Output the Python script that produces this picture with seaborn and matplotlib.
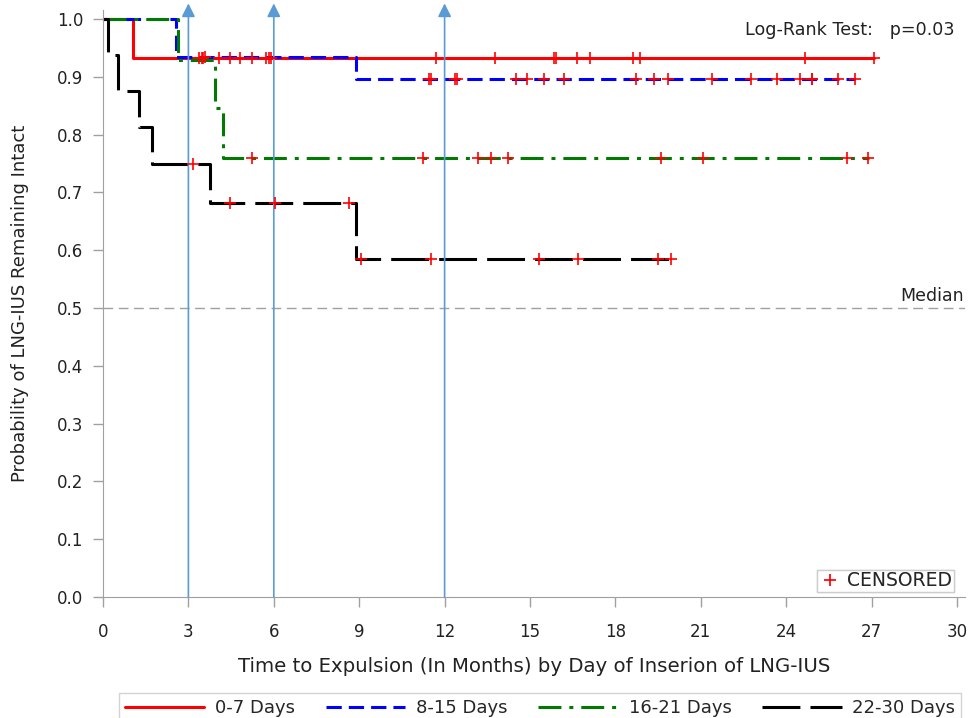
import numpy as np
import pandas as pd
import seaborn as sns
import matplotlib.pyplot as plt
from matplotlib.lines import Line2D
from matplotlib.ticker import FormatStrFormatter

# Kaplan-Meier steps (time in months, survival)
groups = ['0-7 Days', '8-15 Days', '16-21 Days', '22-30 Days']
red_t = [0, 1.05, 27.1]
red_s = [1.0, 0.933, 0.933]
blue_t = [0, 2.55, 8.9, 26.41]
blue_s = [1.0, 0.935, 0.896, 0.896]
green_t = [0, 2.65, 3.95, 4.2, 26.9]
green_s = [1.0, 0.929, 0.846, 0.76, 0.76]
black_t = [0, 0.19, 0.54, 1.28, 1.73, 3.76, 8.87, 19.95]
black_s = [1.0, 0.9375, 0.875, 0.8125, 0.75, 0.682, 0.584, 0.584]

# censored times
red_c = [3.38, 3.47, 3.52, 4.09, 4.45, 4.80, 5.24, 5.74, 5.82, 5.90, 11.70, 13.77,
         15.85, 15.93, 16.64, 17.11, 18.63, 18.86, 24.66, 27.09]
blue_c = [3.58, 11.46, 11.51, 12.36, 12.44, 14.51, 14.91, 15.50, 16.2, 18.71, 19.35,
          19.86, 21.41, 22.78, 23.68, 24.48, 24.89, 24.92, 25.83, 26.41]
green_c = [5.22, 11.25, 13.16, 13.63, 14.24, 19.59, 21.09, 26.15, 26.88]
black_c = [3.17, 4.46, 6.04, 8.64, 9.05, 11.52, 15.33, 16.7, 19.48, 19.95]

ref_months = [3, 6, 12]

steps = [(red_t, red_s, red_c), (blue_t, blue_s, blue_c),
         (green_t, green_s, green_c), (black_t, black_s, black_c)]

rows, cens = [], []
for g, (t, s, c) in zip(groups, steps):
    for ti, si in zip(t, s):
        rows.append(dict(time=ti, surv=si, group=g))
    for ci in c:
        idx = np.searchsorted(t, ci, side='right') - 1
        cens.append(dict(time=ci, surv=s[idx], group=g))
df = pd.DataFrame(rows)
cdf = pd.DataFrame(cens)

colors = {'0-7 Days': '#FF0000', '8-15 Days': '#0000FF',
          '16-21 Days': '#007A00', '22-30 Days': '#000000'}
dashes = {'0-7 Days': '', '8-15 Days': (5, 2.3),
          '16-21 Days': (7.5, 2.6, 1.3, 2.6), '22-30 Days': (12.4, 3.3)}

sns.set_style('ticks')
plt.rcParams['font.family'] = ['DejaVu Sans']

fig = plt.figure(figsize=(9.68, 7.18), dpi=100)
ax = fig.add_axes([0.1064, 0.1685, 0.8905, 0.8171])

sns.lineplot(data=df, x='time', y='surv', hue='group', style='group',
             palette=colors, dashes=dashes, hue_order=groups, style_order=groups,
             drawstyle='steps-post', estimator=None, sort=False, lw=2.2,
             legend=False, ax=ax)
sns.scatterplot(data=cdf, x='time', y='surv', color='#FF0000', marker='+',
                s=70, linewidth=1.2, zorder=5, ax=ax)

# median line
ax.axhline(0.5, color='#A0A0A0', lw=1.0, ls=(0, (7, 4)), zorder=1)
ax.text(30.25, 0.506, 'Median', ha='right', va='bottom', fontsize=12.5, color='#222222')

# reference arrows
for m in ref_months:
    ax.annotate('', xy=(m, 1.027), xytext=(m, 0), annotation_clip=False,
                arrowprops=dict(arrowstyle='-|>', color='#5B9BD5', lw=1.2,
                                mutation_scale=20, shrinkA=0, shrinkB=0))

ax.text(29.9, 0.981, 'Log-Rank Test:   p=0.03', ha='right', va='center',
        fontsize=12.6, color='#222222')

ax.set_xlim(0, 30.28)
ax.set_ylim(0, 1.015)
ax.set_xticks(np.arange(0, 31, 3))
ax.set_yticks(np.arange(0, 1.01, 0.1))
ax.yaxis.set_major_formatter(FormatStrFormatter('%.1f'))
ax.tick_params(colors='#A0A0A0', labelcolor='#222222', labelsize=12, length=7, width=1)
ax.tick_params(axis='x', pad=11.5)
ax.tick_params(axis='y', pad=7)
for sp in ['top', 'right']:
    ax.spines[sp].set_visible(False)
for sp in ['left', 'bottom']:
    ax.spines[sp].set_color('#A0A0A0')
ax.set_xlabel('Time to Expulsion (In Months) by Day of Inserion of LNG-IUS',
              fontsize=14.2, color='#222222', labelpad=11.5)
ax.set_ylabel('Probability of LNG-IUS Remaining Intact', fontsize=13,
              color='#222222', labelpad=20)

# censored legend
cleg = ax.legend([Line2D([], [], color='#FF0000', marker='+', ls='none', ms=9, mew=1.2)],
                 ['CENSORED'], loc='lower right', bbox_to_anchor=(0.998, -0.008),
                 fontsize=13.5, frameon=True, fancybox=False, edgecolor='#C8C8C8',
                 handletextpad=0.3, borderpad=0.1, handlelength=1.2)
cleg.get_frame().set_linewidth(1)
ax.add_artist(cleg)

handles = []
for g in groups:
    if dashes[g]:
        handles.append(Line2D([], [], color=colors[g], lw=2.2, dashes=dashes[g]))
    else:
        handles.append(Line2D([], [], color=colors[g], lw=2.2))
fleg = fig.legend(handles, groups, loc='lower center', ncol=4,
                  bbox_to_anchor=(0.558, -0.0185), fontsize=13, frameon=True,
                  fancybox=False, edgecolor='#C8C8C8', handlelength=4.4,
                  columnspacing=1.7, handletextpad=0.6, borderpad=0.3)
fleg.get_frame().set_linewidth(1)

fig.savefig('out.png', dpi=100)
